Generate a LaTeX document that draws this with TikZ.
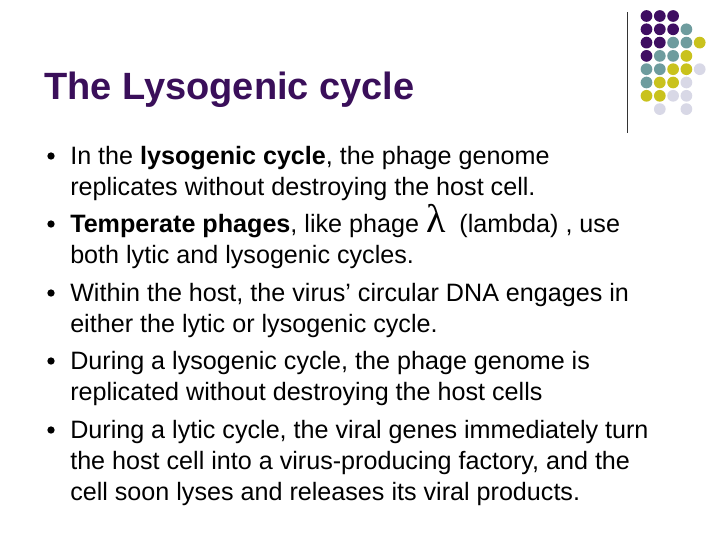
\documentclass[tikz,border=0pt]{standalone}
\usepackage{fontspec}
\setmainfont{Liberation Sans}
\newfontfamily\lamfont{Liberation Serif}
\definecolor{pp}{HTML}{3F0E62}
\definecolor{tt}{HTML}{6E9C9E}
\definecolor{yy}{HTML}{C9C21D}
\definecolor{ll}{HTML}{D8D8E6}
\definecolor{titlec}{HTML}{3A0F5A}
\begin{document}
\begin{tikzpicture}[x=0.75pt,y=-0.75pt,
  dot/.style={circle,inner sep=0pt,minimum size=8.8pt},
  body/.style={anchor=base west,inner sep=0pt,font=\fontsize{18.85pt}{23pt}\selectfont},
  bul/.style={circle,fill=black,inner sep=0pt,minimum size=5.5pt}]
\useasboundingbox (0,0) rectangle (720,540);
\draw[line width=0.6pt,black!80] (627,12) coordinate (la) -- (627,133) coordinate (lb);
\foreach \r/\row in {0/{pp,pp,pp,,},1/{pp,pp,pp,tt,},2/{pp,pp,tt,tt,yy},3/{pp,tt,tt,yy,},4/{tt,tt,yy,yy,ll},5/{tt,yy,yy,ll,},6/{yy,yy,ll,ll,},7/{,ll,,ll,}}{
  \foreach \c [count=\i from 0] in \row {
    \ifx\c\empty\else
    \node[dot,fill=\c] (d\r\i) at (646.5+13.3*\i,16+13.3*\r) {};
    \fi
  }
}
\node[anchor=base west,inner sep=0pt,text=titlec,font=\bfseries\fontsize{28.5pt}{34pt}\selectfont] (title) at (44,99) {The Lysogenic cycle};
\foreach \y [count=\k] in {156,224,293,361,430}{\node[bul] (b\k) at (51,\y) {};}
\node[body] (t1) at (70,164) {In the \textbf{lysogenic cycle}, the phage genome};
\node[body] (t1b) at (70,195) {replicates without destroying the host cell.};
\node[body] (t2) at (70,232) {\textbf{Temperate phages}, like phage {\lamfont\fontsize{30pt}{30pt}\selectfont λ}\ \ (lambda) , use};
\node[body] (t2b) at (70,263) {both lytic and lysogenic cycles.};
\node[body] (t3) at (70,301) {Within the host, the virus’ circular DNA engages in};
\node[body] (t3b) at (70,332) {either the lytic or lysogenic cycle.};
\node[body] (t4) at (70,369) {During a lysogenic cycle, the phage genome is};
\node[body] (t4b) at (70,400) {replicated without destroying the host cells};
\node[body] (t5) at (70,438) {During a lytic cycle, the viral genes immediately turn};
\node[body] (t5b) at (70,469) {the host cell into a virus-producing factory, and the};
\node[body] (t5c) at (70,500) {cell soon lyses and releases its viral products.};
\end{tikzpicture}
\end{document}
